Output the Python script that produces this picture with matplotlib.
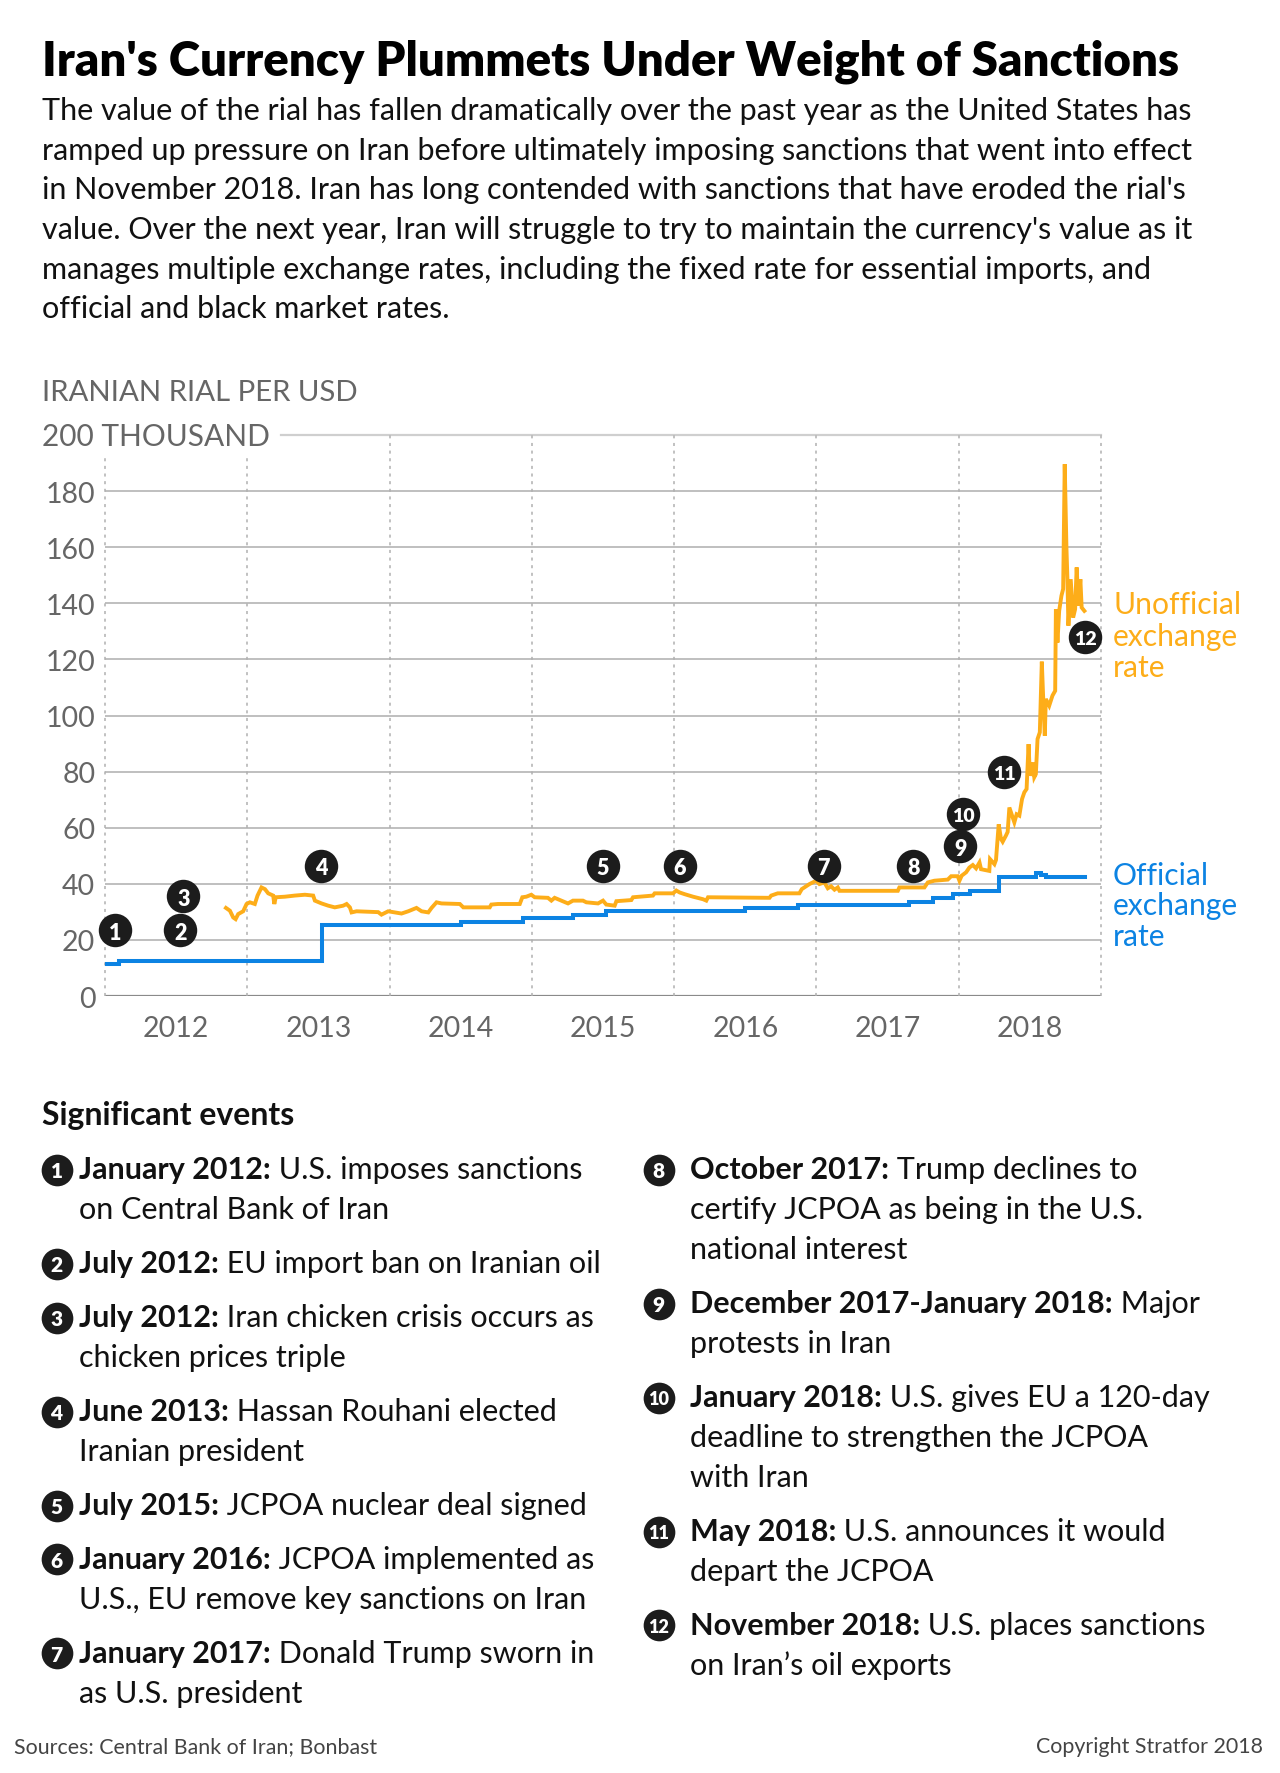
import matplotlib
matplotlib.use("Agg")
import matplotlib.pyplot as plt

W, H = 1280, 1774
FONT = "Lato"
plt.rcParams["font.family"] = [FONT, "DejaVu Sans"]

ORANGE = "#FDAD19"
BLUE = "#0C83E3"
BADGE = "#1c1c1c"
GRAY = "#666666"
INK = "#111111"

# unofficial (black market) rate, thousand rial per USD
unofficial_t = [2012.850, 2012.878, 2012.901, 2012.918, 2012.936, 2012.971, 2012.995, 2013.018,
                2013.053, 2013.072, 2013.100, 2013.124, 2013.147, 2013.182, 2013.190, 2013.200,
                2013.264, 2013.334, 2013.405, 2013.463, 2013.475, 2013.522, 2013.569, 2013.615,
                2013.674, 2013.698, 2013.721, 2013.733, 2013.768, 2013.920, 2013.943, 2013.990,
                2014.084, 2014.131, 2014.189, 2014.225, 2014.272, 2014.295, 2014.330, 2014.365,
                2014.494, 2014.518, 2014.704, 2014.715, 2014.762, 2014.915, 2014.933, 2014.961,
                2014.996, 2015.020, 2015.113, 2015.137, 2015.160, 2015.207, 2015.254, 2015.289,
                2015.359, 2015.383, 2015.465, 2015.500, 2015.523, 2015.582, 2015.594, 2015.699,
                2015.711, 2015.758, 2015.851, 2015.863, 2015.992, 2016.015, 2016.039, 2016.074,
                2016.133, 2016.203, 2016.226, 2016.238, 2016.670, 2016.682, 2016.728, 2016.880,
                2016.897, 2016.927, 2016.951, 2016.974, 2016.998, 2017.021, 2017.056, 2017.080,
                2017.103, 2017.127, 2017.150, 2017.162, 2017.572, 2017.583, 2017.759, 2017.783,
                2017.829, 2017.923, 2017.947, 2017.993, 2018.005, 2018.021, 2018.052, 2018.075,
                2018.099, 2018.122, 2018.146, 2018.157, 2018.215, 2018.220, 2018.251, 2018.262,
                2018.281, 2018.297, 2018.309, 2018.332, 2018.344, 2018.356, 2018.375, 2018.391,
                2018.407, 2018.426, 2018.445, 2018.461, 2018.477, 2018.491, 2018.500, 2018.519,
                2018.531, 2018.542, 2018.554, 2018.570, 2018.584, 2018.593, 2018.605, 2018.612,
                2018.636, 2018.659, 2018.678, 2018.683, 2018.694, 2018.706, 2018.722, 2018.734,
                2018.745, 2018.757, 2018.764, 2018.771, 2018.787, 2018.804, 2018.818, 2018.829,
                2018.841, 2018.855, 2018.864, 2018.883]
unofficial_v = [31.4, 30.4, 28.0, 27.4, 29.2, 30.2, 32.8, 33.4,
                32.8, 35.8, 38.7, 38.1, 36.6, 35.8, 32.8, 35.2,
                35.4, 35.8, 36.1, 35.8, 34.0, 33.0, 32.2, 31.6,
                32.2, 32.8, 31.6, 29.8, 30.2, 29.9, 29.0, 30.2,
                29.4, 30.2, 31.4, 30.2, 29.8, 31.4, 33.4, 33.0,
                32.8, 31.6, 31.6, 32.6, 32.8, 32.8, 35.2, 35.4,
                36.1, 35.2, 35.0, 34.0, 35.0, 34.0, 33.0, 34.0,
                34.0, 33.4, 33.0, 34.0, 32.6, 32.2, 33.8, 34.2,
                35.2, 35.4, 35.8, 36.6, 36.6, 37.6, 36.9, 36.3,
                35.4, 34.5, 34.0, 35.2, 35.0, 35.8, 36.6, 36.6,
                38.1, 39.1, 39.9, 40.5, 41.1, 39.9, 40.5, 38.4,
                39.1, 37.9, 38.7, 37.5, 37.5, 38.7, 38.7, 40.5,
                41.1, 41.5, 42.7, 42.7, 41.1, 42.9, 44.1, 45.8,
                46.7, 45.5, 47.6, 45.2, 44.6, 48.8, 47.0, 48.5,
                61.2, 56.0, 55.0, 57.2, 58.5, 67.2, 64.3, 61.9,
                64.8, 64.3, 70.2, 72.6, 73.8, 89.8, 78.5, 83.3,
                78.0, 79.1, 91.6, 94.0, 119.2, 107.1, 92.8, 105.9,
                103.5, 107.1, 108.8, 137.9, 126.0, 137.3, 142.7, 145.1,
                189.6, 160.0, 148.6, 132.0, 148.6, 134.9, 137.9, 152.8,
                139.1, 148.6, 138.5, 137.3]

# official central bank rate, thousand rial per USD (step changes)
official_t = [2012.00, 2012.10, 2013.526, 2014.50, 2014.937, 2015.289, 2015.523, 2016.499,
              2016.869, 2017.653, 2017.817, 2017.960, 2018.080, 2018.286, 2018.543, 2018.575,
              2018.613, 2018.889]
official_v = [11.3, 12.3, 25.3, 26.4, 27.8, 29.0, 30.2, 31.4,
              32.6, 33.6, 35.0, 36.3, 37.5, 42.4, 43.9, 43.3,
              42.4, 42.4]

years = [2012, 2013, 2014, 2015, 2016, 2017, 2018, 2019]
year_labels = ["2012", "2013", "2014", "2015", "2016", "2017", "2018"]
y_ticks = [0, 20, 40, 60, 80, 100, 120, 140, 160, 180]

# event badges on the chart (year, thousand rial)
event_num = ["1", "2", "3", "4", "5", "6", "7", "8", "9", "10", "11", "12"]
event_x = [2012.07, 2012.53, 2012.55, 2013.52, 2015.50, 2016.04, 2017.05, 2017.68,
           2018.01, 2018.03, 2018.32, 2018.89]
event_y = [23.4, 23.4, 35.5, 46.4, 46.4, 46.4, 46.4, 46.4, 53.3, 65.0, 79.9, 127.9]

event_dates = ["January 2012:", "July 2012:", "July 2012:", "June 2013:", "July 2015:",
               "January 2016:", "January 2017:", "October 2017:",
               "December 2017-January 2018:", "January 2018:", "May 2018:", "November 2018:"]
event_text = [
    ["U.S. imposes sanctions", "on Central Bank of Iran"],
    ["EU import ban on Iranian oil"],
    ["Iran chicken crisis occurs as", "chicken prices triple"],
    ["Hassan Rouhani elected", "Iranian president"],
    ["JCPOA nuclear deal signed"],
    ["JCPOA implemented as", "U.S., EU remove key sanctions on Iran"],
    ["Donald Trump sworn in", "as U.S. president"],
    ["Trump declines to", "certify JCPOA as being in the U.S.", "national interest"],
    ["Major", "protests in Iran"],
    ["U.S. gives EU a 120-day", "deadline to strengthen the JCPOA", "with Iran"],
    ["U.S. announces it would", "depart the JCPOA"],
    ["U.S. places sanctions", "on Iran\u2019s oil exports"],
]

title = "Iran's Currency Plummets Under Weight of Sanctions"
subtitle = [
    "The value of the rial has fallen dramatically over the past year as the United States has",
    "ramped up pressure on Iran before ultimately imposing sanctions that went into effect",
    "in November 2018. Iran has long contended with sanctions that have eroded the rial's",
    "value. Over the next year, Iran will struggle to try to maintain the currency's value as it",
    "manages multiple exchange rates, including the fixed rate for essential imports, and",
    "official and black market rates.",
]

fig = plt.figure(figsize=(W / 100, H / 100), dpi=100)
fig.patch.set_facecolor("white")

# chart axes, box given in pixels (left, top, right, bottom)
l, t, r, b = 105, 436, 1101, 997
ax = fig.add_axes([l / W, 1 - b / H, (r - l) / W, (b - t) / H])
ax.set_xlim(2012, 2019)
ax.set_ylim(0, 200)
for s in ax.spines.values():
    s.set_visible(False)

for v in y_ticks[1:]:
    ax.axhline(v, color="#b4b4b4", lw=1.2, zorder=1)
ax.axhline(0, color="#8a8a8a", lw=1.6, zorder=1)
ax.plot([0.177, 1.0], [200, 200], transform=ax.get_yaxis_transform(), color="#cfcfcf",
        lw=1.6, clip_on=False, zorder=1)
for yr in years:
    top = 193 if yr < 2014 else 200
    ax.plot([yr, yr], [0, top], color="#b0b0b0", lw=1.1, ls=(0, (2, 3)), clip_on=False, zorder=1)

ax.plot(official_t, official_v, color=BLUE, lw=2.9, drawstyle="steps-post", zorder=3,
        solid_joinstyle="miter")
ax.plot(unofficial_t, unofficial_v, color=ORANGE, lw=2.8, zorder=3, solid_joinstyle="miter")

ax.set_yticks(y_ticks)
ax.set_yticklabels([str(v) for v in y_ticks])
ax.set_xticks([y + 0.5 for y in years[:-1]])
ax.set_xticklabels(year_labels)
ax.tick_params(axis="y", length=0, pad=7, labelsize=20.5, labelcolor=GRAY)
ax.tick_params(axis="x", length=0, pad=14, labelsize=20.5, labelcolor=GRAY)

ax.scatter(event_x, event_y, s=580, color=BADGE, zorder=5, clip_on=False, linewidths=0)
for n, x, y in zip(event_num, event_x, event_y):
    ax.text(x, y, n, color="white", fontsize=15.5 if len(n) == 1 else 14, fontweight="heavy",
            ha="center", va="center_baseline", zorder=6)

# overlay in pixel coordinates for all the surrounding text
cv = fig.add_axes([0, 0, 1, 1])
cv.set_xlim(0, W)
cv.set_ylim(H, 0)
cv.axis("off")

cv.text(42, 76, title, fontsize=34.1, fontweight="heavy", color="black", va="baseline")
for i, line in enumerate(subtitle):
    cv.text(42, 120 + 39.7 * i, line, fontsize=21.95, color=INK, va="baseline")

cv.text(42, 401, "IRANIAN RIAL PER USD", fontsize=21.2, color=GRAY, va="baseline")
cv.text(42, 446, "200 THOUSAND", fontsize=21.5, color=GRAY, va="baseline")

for i, line in enumerate(["Unofficial", "exchange", "rate"]):
    cv.text(1113, 614 + 31.7 * i, line, fontsize=21.6, color=ORANGE, va="baseline")
for i, line in enumerate(["Official", "exchange", "rate"]):
    cv.text(1113, 885 + 30.5 * i, line, fontsize=21.6, color=BLUE, va="baseline")

cv.text(42, 1125, "Significant events", fontsize=23, fontweight="bold", color=INK,
        va="baseline")


def event_item(x_badge, x_text, y, num, date, lines):
    cv.scatter([x_badge], [y - 8.5], s=520, color=BADGE, linewidths=0, zorder=5)
    cv.text(x_badge, y - 8.5, num, color="white", fontsize=15 if len(num) == 1 else 13,
            fontweight="heavy", ha="center", va="center_baseline", zorder=6)
    bold = cv.text(x_text, y, date, fontsize=22, fontweight="bold", color=INK, va="baseline")
    cv.annotate(" " + lines[0], xy=(1, 0), xycoords=bold, va="bottom", ha="left",
                fontsize=22, color=INK)
    for j, extra in enumerate(lines[1:]):
        cv.text(x_text, y + 40 * (j + 1), extra, fontsize=22, color=INK, va="baseline")
    return y + 40 * len(lines) + 14


y = 1179
for k in range(7):
    y = event_item(56.6, 79, y, event_num[k], event_dates[k], event_text[k])
y = 1179
for k in range(7, 12):
    y = event_item(658.6, 690, y, event_num[k], event_dates[k], event_text[k])

cv.text(14, 1753, "Sources: Central Bank of Iran; Bonbast", fontsize=15.4, color="#444444",
        va="baseline")
cv.text(1263, 1753, "Copyright Stratfor 2018", fontsize=15.4, color="#444444", va="baseline",
        ha="right")

fig.savefig("out.png", dpi=100, facecolor="white")
